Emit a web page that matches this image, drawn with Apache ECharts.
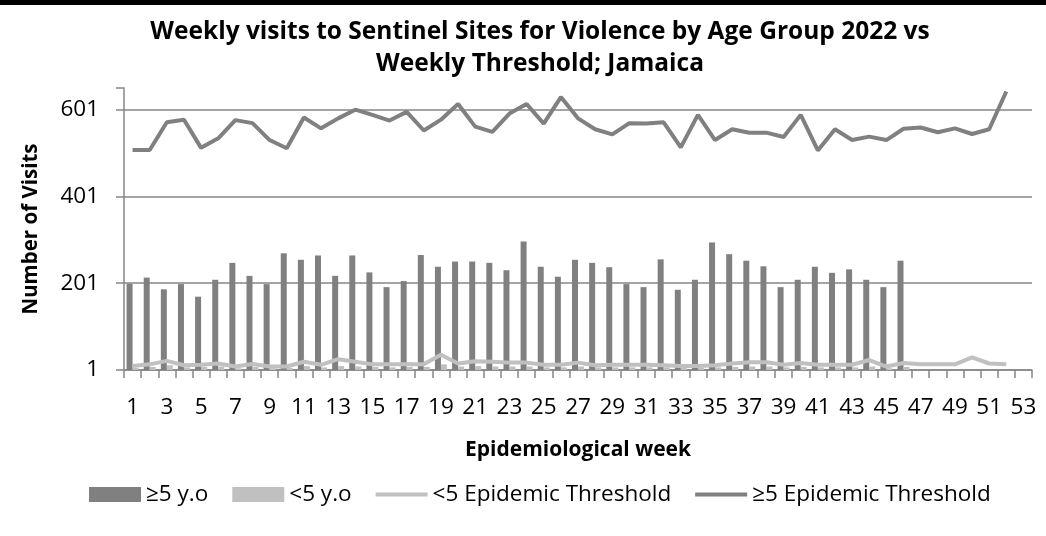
<!DOCTYPE html>
<html>
<head>
<meta charset="utf-8">
<script src="https://cdn.jsdelivr.net/npm/echarts@6/dist/echarts.min.js"></script>
<style>
html,body{margin:0;padding:0;background:#fff;}
#chart{width:1046px;height:536px;}
</style>
</head>
<body>
<div id="chart"></div>
<script>
// Epidemiological weeks 1..53
const weeks = Array.from({length: 53}, (_, i) => String(i + 1));
// ≥5 y.o weekly visits (weeks 1-46)
const over5 = [200,214,187,199,170,209,248,218,199,270,255,265,218,265,226,192,206,266,239,251,
               251,248,231,297,239,216,255,248,238,199,192,256,186,209,295,268,253,240,192,209,
               239,225,233,209,192,253];
// <5 y.o weekly visits (weeks 1-46)
const under5 = [6,8,12,7,8,9,5,8,5,6,10,7,10,9,8,7,8,8,14,9,
                10,9,9,9,7,7,9,7,7,7,7,7,6,6,7,8,9,9,7,8,
                7,7,7,9,5,8];
// <5 Epidemic Threshold (weeks 1-52)
const thrUnder5 = [10,14,22,12,13,16,9,15,9,9,20,13,26,20,14,14,14,14,36,16,
                   21,20,18,18,13,13,18,12,13,13,13,12,10,10,12,16,19,19,13,17,
                   13,13,13,24,9,17,14,14,14,30,16,14];
// ≥5 Epidemic Threshold (weeks 1-52)
const thrOver5 = [508,508,572,578,513,535,577,570,531,512,583,558,581,601,589,576,596,553,578,614,
                  562,550,592,614,569,630,581,556,544,570,569,572,514,589,531,556,548,548,538,589,
                  507,556,531,539,531,557,560,549,558,545,556,643];
const yTicks = [1, 201, 401, 601];

const FONT = 'Open Sans';
const LINE_ICON = 'path://M0,0L52,0L52,4L0,4Z';
const chart = echarts.init(document.getElementById('chart'), null, {renderer: 'canvas'});
chart.setOption({
  animation: false,
  backgroundColor: '#ffffff',
  textStyle: {fontFamily: FONT, color: '#000'},
  graphic: [{type: 'rect', left: 0, top: 0, shape: {width: 1046, height: 5}, style: {fill: '#000'}}],
  title: {
    text: 'Weekly visits to Sentinel Sites for Violence by Age Group 2022 vs\nWeekly Threshold; Jamaica',
    left: 535, textAlign: 'center', top: 11,
    textStyle: {fontFamily: FONT, fontWeight: 'bold', fontSize: 24.5, lineHeight: 32, color: '#000'}
  },
  legend: {
    left: 84, top: 478,
    itemWidth: 52, itemHeight: 15, itemGap: 24,
    textStyle: {fontFamily: FONT, fontSize: 22.5, color: '#000'},
    data: [
      {name: '≥5 y.o', icon: 'rect'},
      {name: '<5 y.o', icon: 'rect'},
      {name: '<5 Epidemic Threshold', icon: LINE_ICON},
      {name: '≥5 Epidemic Threshold', icon: LINE_ICON}
    ]
  },
  grid: {left: 124, right: 14, top: 88, bottom: 166},
  xAxis: {
    type: 'category',
    data: weeks,
    name: 'Epidemiological week',
    nameLocation: 'middle',
    nameGap: 70,
    nameTextStyle: {fontFamily: FONT, fontWeight: 'bold', fontSize: 21, color: '#000'},
    axisLine: {lineStyle: {color: '#868686', width: 1.5}},
    axisTick: {show: true, length: 8, interval: 0, lineStyle: {color: '#868686', width: 1.5}},
    axisLabel: {interval: 1, margin: 26, fontFamily: FONT, fontSize: 22.5, color: '#000'},
    splitLine: {show: false}
  },
  yAxis: {
    type: 'value',
    min: 1, max: 651, interval: 200,
    name: 'Number of Visits',
    nameLocation: 'middle',
    nameGap: 82,
    nameRotate: 90,
    nameTextStyle: {fontFamily: FONT, fontWeight: 'bold', fontSize: 20.5, color: '#000'},
    axisLine: {show: true, lineStyle: {color: '#868686', width: 1.5}},
    axisTick: {show: true, length: 8, lineStyle: {color: '#868686', width: 1.5}},
    axisLabel: {margin: 25, fontFamily: FONT, fontSize: 22.5, color: '#000',
      formatter: v => (yTicks.indexOf(v) >= 0 ? String(v) : '')},
    splitLine: {show: true, showMaxLine: false, lineStyle: {color: '#868686', width: 1.5}}
  },
  series: [
    {name: '≥5 y.o', type: 'bar', data: over5, barWidth: 6, barGap: '0%',
     itemStyle: {color: '#808080'}, z: 2},
    {name: '<5 y.o', type: 'bar', data: under5, barWidth: 6,
     itemStyle: {color: '#c0c0c0'}, z: 2},
    {name: '<5 Epidemic Threshold', type: 'line', data: thrUnder5, symbol: 'none',
     lineStyle: {color: '#c0c0c0', width: 4}, itemStyle: {color: '#c0c0c0'}, z: 3},
    {name: '≥5 Epidemic Threshold', type: 'line', data: thrOver5, symbol: 'none',
     lineStyle: {color: '#808080', width: 4}, itemStyle: {color: '#808080'}, z: 3}
  ]
});
</script>
</body>
</html>
